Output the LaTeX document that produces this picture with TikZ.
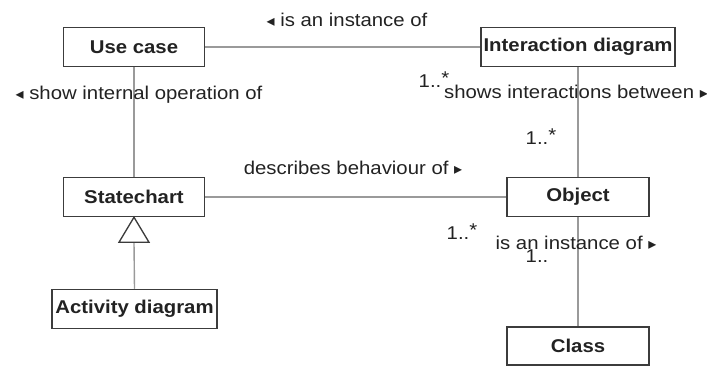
\documentclass[tikz,border=0pt]{standalone}
\usepackage{fontspec}
\setmainfont{Liberation Sans}[FakeStretch=1.1]
\newfontfamily\symfont{DejaVu Sans}
\newcommand{\lt}{{\symfont\fontsize{16}{16}\selectfont ◂}}
\newcommand{\rt}{{\symfont\fontsize{16}{16}\selectfont ▸}}
\newcommand{\many}{1..\raisebox{0.35ex}{*}}
\definecolor{boxline}{HTML}{3C3C3C}
\definecolor{linkline}{HTML}{9A9A9A}
\definecolor{ink}{HTML}{222222}
\begin{document}
\begin{tikzpicture}[x=1pt,y=-1pt,
  every node/.style={text=ink},
  classbox/.style={draw=boxline, line width=1.5pt, fill=white, inner sep=0pt,
    minimum height=39pt, font=\fontsize{18.5}{20}\selectfont\bfseries},
  link/.style={draw=linkline, line width=1.4pt},
  lbl/.style={inner sep=0pt, anchor=base, font=\fontsize{18.5}{20}\selectfont},
  gentip/.style={draw=boxline, line width=1.3pt, fill=white}]
\useasboundingbox (0,0) rectangle (707,366);

% classes
\node[classbox, minimum width=141pt] (usecase) at (134,47) {Use case};
\node[classbox, minimum width=194pt] (interaction) at (578,47) {Interaction diagram};
\node[classbox, minimum width=141pt] (statechart) at (134,197) {Statechart};
\node[classbox, minimum width=165pt] (activity) at (134.5,309) {Activity diagram};
\node[classbox, minimum width=142pt] (object) at (578,197) {Object};
\node[classbox, minimum width=142pt, minimum height=38pt] (class) at (578,346) {Class};

% associations
\draw[link] (usecase.east) -- (interaction.west);
\draw[link] (usecase.south) -- (statechart.north);
\draw[link] (statechart.east) -- (object.west);
\draw[link] (interaction.south) -- (object.north);
\draw[link] (object.south) -- (class.north);

% generalisation: Activity diagram is a Statechart
\coordinate (tip) at (statechart.south);
\coordinate (base) at ([yshift=-25pt]tip);
\draw[link] (activity.north) -- (base);
\draw[gentip] (tip) -- ([xshift=-15pt]base) -- ([xshift=15pt]base) -- cycle;

% association labels and multiplicities
\node[lbl] (l1) at (347,27) {\lt\ is an instance of};
\node[lbl] (l2) at (139,100) {\lt\ show internal operation of};
\node[lbl] (l3) at (576,99) {shows interactions between \rt};
\node[lbl] (m1) at (434,88) {\many};
\node[lbl] (m2) at (541,145) {\many};
\node[lbl] (l4) at (353,175) {describes behaviour of \rt};
\node[lbl] (m3) at (462,240) {\many};
\node[lbl] (l5) at (576,250) {is an instance of \rt};
\node[lbl] (m4) at (537,262) {1..};
\end{tikzpicture}
\end{document}
